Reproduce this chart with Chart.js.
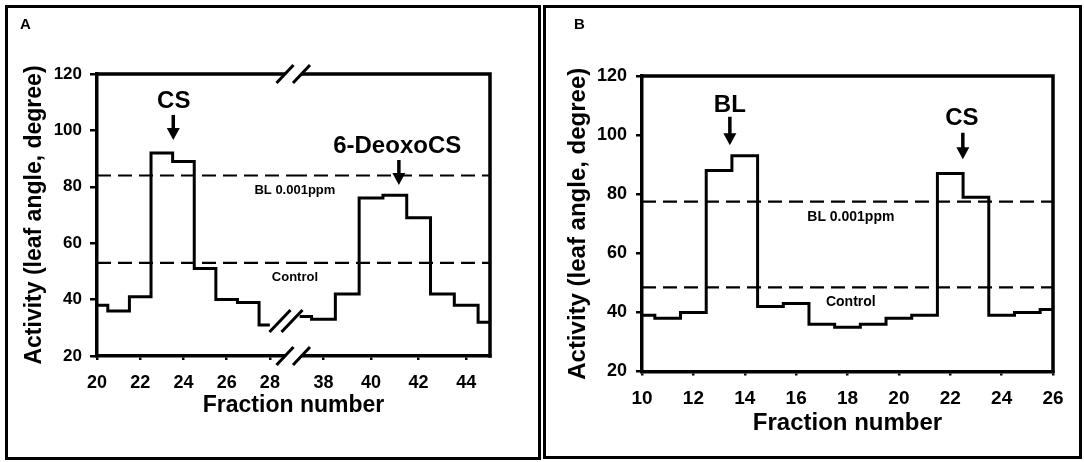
<!DOCTYPE html>
<html>
<head>
<meta charset="utf-8">
<title>Leaf angle activity by fraction</title>
<script src="https://cdn.jsdelivr.net/npm/chart.js@4.4.1/dist/chart.umd.min.js"></script>
<style>
  html, body { margin: 0; padding: 0; background: #fff; }
  body { width: 1084px; height: 462px; position: relative; overflow: hidden; }
  .panel-frame { position: absolute; box-sizing: border-box; border: 3px solid #000; }
  #frame_a { left: 5px; top: 5px; width: 536px; height: 455px; }
  #frame_b { left: 543px; top: 5px; width: 539px; height: 454px; }
  canvas { position: absolute; top: 0; }
  #chart_a { left: 0; }
  #chart_b { left: 542px; }
</style>
</head>
<body>
<div class="panel-frame" id="frame_a"></div>
<div class="panel-frame" id="frame_b"></div>
<canvas id="chart_a" width="542" height="462"></canvas>
<canvas id="chart_b" width="542" height="462"></canvas>

<script>
const FONT = '"Liberation Sans", Arial, Helvetica, sans-serif';

// Panel A - x axis is broken between fraction 28 and 38
const fractionsA1 = [20, 21, 22, 23, 24, 25, 26, 27, 28];
const activityA1 = [38, 36, 41, 92, 89, 51, 40, 39, 31];
const fractionsA2 = [37, 38, 39, 40, 41, 42, 43, 44, 45];
const activityA2 = [34, 33, 42, 76, 77, 69, 42, 38, 32];
const blLevelA = 84;
const controlLevelA = 53;

// Panel B
const fractionsB = [10, 11, 12, 13, 14, 15, 16, 17, 18, 19, 20, 21, 22, 23, 24, 25, 26];
const activityB = [39, 38, 40, 88, 93, 42, 43, 36, 35, 36, 38, 39, 87, 79, 39, 40, 41];
const blLevelB = 77.5;
const controlLevelB = 48.5;

// tick labels / axis ranges
const yTicks = [20, 40, 60, 80, 100, 120];
const yRange = [20, 120];
const xTicksA1 = [20, 22, 24, 26, 28];
const xTicksA2 = [38, 40, 42, 44];
const xRangeA1 = [20, 29.07];
const xRangeA2 = [36.72, 45];
const xTicksB = [10, 12, 14, 16, 18, 20, 22, 24, 26];
const xRangeB = [10, 26];

// annotation texts and arrows (placed in data units)
const labelsA = [
  { text: "CS", axis: "x", x: 23.55, y: 110.2, size: 24 },
  { text: "6-DeoxoCS", axis: "x2", x: 41.1, y: 94.2, size: 24 },
  { text: "BL 0.001ppm", axis: "x2", x: 36.8, y: 78.6, size: 13 },
  { text: "Control", axis: "x2", x: 36.8, y: 47.9, size: 13 },
];
const arrowsA = [
  { axis: "x", x: 23.53, from: 105.5, to: 96.6 },
  { axis: "x2", x: 41.17, from: 89.5, to: 80.6 },
];
const labelsB = [
  { text: "BL", axis: "x", x: 13.42, y: 109.9, size: 24 },
  { text: "CS", axis: "x", x: 22.45, y: 105.7, size: 24 },
  { text: "BL 0.001ppm", axis: "x", x: 18.13, y: 72.2, size: 14 },
  { text: "Control", axis: "x", x: 18.13, y: 43.4, size: 14 },
];
const arrowsB = [
  { axis: "x", x: 13.42, from: 106.2, to: 96.6 },
  { axis: "x", x: 22.49, from: 100.8, to: 91.8 },
];

function points(xs, ys) {
  return xs.map(function (x, i) { return { x: x, y: ys[i] }; });
}

function flatLine(range, level) {
  return [{ x: range[0], y: level }, { x: range[1], y: level }];
}

function drawBreak(ctx, x1, x2, y, dx, dy) {
  ctx.fillStyle = "#fff";
  ctx.beginPath();
  ctx.moveTo(x1 - dx, y + dy);
  ctx.lineTo(x1 + dx, y - dy);
  ctx.lineTo(x2 + dx, y - dy);
  ctx.lineTo(x2 - dx, y + dy);
  ctx.closePath();
  ctx.fill();
  ctx.beginPath();
  ctx.moveTo(x1 - dx, y + dy);
  ctx.lineTo(x1 + dx, y - dy);
  ctx.moveTo(x2 - dx, y + dy);
  ctx.lineTo(x2 + dx, y - dy);
  ctx.stroke();
}

// Frame, panel letter, text labels, arrows and axis breaks
const panelDecor = {
  id: "panelDecor",
  afterDraw: function (chart, args, opts) {
    const ctx = chart.ctx;
    const area = chart.chartArea;
    const yS = chart.scales.y;
    ctx.save();

    ctx.strokeStyle = "#000";
    ctx.lineWidth = 3.5;
    ctx.lineCap = "square";
    ctx.beginPath();
    ctx.moveTo(area.left, area.top);
    ctx.lineTo(area.right, area.top);
    ctx.lineTo(area.right, area.bottom);
    ctx.stroke();
    ctx.lineCap = "butt";

    if (opts.breakAxis) {
      const bx = chart.scales[opts.breakAxis].right;
      ctx.lineWidth = 3;
      drawBreak(ctx, bx - 8, bx + 8.5, area.top, 8.5, 9);
      drawBreak(ctx, bx - 8, bx + 8.5, area.bottom, 8.5, 9);
      drawBreak(ctx, bx - 13, bx - 1, yS.getPixelForValue(opts.breakLevel), 10.5, 11);
    }

    ctx.fillStyle = "#000";
    ctx.font = "bold 15px " + FONT;
    ctx.textAlign = "left";
    ctx.textBaseline = "alphabetic";
    ctx.fillText(opts.letter, opts.letterX, 29);

    ctx.textAlign = "center";
    ctx.textBaseline = "middle";
    (opts.labels || []).forEach(function (lb) {
      ctx.font = "bold " + lb.size + "px " + FONT;
      ctx.fillText(lb.text, chart.scales[lb.axis].getPixelForValue(lb.x), yS.getPixelForValue(lb.y));
    });

    (opts.arrows || []).forEach(function (ar) {
      const px = chart.scales[ar.axis].getPixelForValue(ar.x);
      const y0 = yS.getPixelForValue(ar.from);
      const tip = yS.getPixelForValue(ar.to);
      ctx.lineWidth = 3.5;
      ctx.beginPath();
      ctx.moveTo(px, y0);
      ctx.lineTo(px, tip - 10);
      ctx.stroke();
      ctx.beginPath();
      ctx.moveTo(px - 6.5, tip - 12);
      ctx.lineTo(px + 6.5, tip - 12);
      ctx.lineTo(px, tip);
      ctx.closePath();
      ctx.fill();
    });

    ctx.restore();
  },
};

function yAxis(cfg) {
  return {
    type: "linear",
    position: "left",
    min: yRange[0],
    max: yRange[1],
    afterBuildTicks: function (scale) {
      scale.ticks = yTicks.map(function (v) { return { value: v }; });
    },
    afterFit: function (scale) { scale.width = cfg.width; },
    ticks: { color: "#000", padding: cfg.tickPad, font: { family: FONT, size: cfg.tickSize, weight: "bold" } },
    grid: { drawOnChartArea: false, drawTicks: true, tickLength: cfg.tickLen, color: "#000", lineWidth: 2.5 },
    border: { display: true, color: "#000", width: 3.5 },
    title: {
      display: true,
      text: "Activity (leaf angle, degree)",
      color: "#000",
      padding: { top: cfg.titlePad, bottom: 0 },
      font: { family: FONT, size: cfg.titleSize, weight: "bold" },
    },
  };
}

function xAxis(range, tickValues, cfg) {
  return {
    type: "linear",
    position: "bottom",
    stack: "fraction",
    stackWeight: cfg.weight || 1,
    min: range[0],
    max: range[1],
    afterBuildTicks: function (scale) {
      scale.ticks = tickValues.map(function (v) { return { value: v }; });
    },
    afterFit: function (scale) { scale.height = cfg.height; },
    ticks: { color: "#000", padding: cfg.tickPad, maxRotation: 0, font: { family: FONT, size: cfg.tickSize, weight: "bold" } },
    grid: { drawOnChartArea: false, drawTicks: true, tickLength: 4, color: "#000", lineWidth: 2.5 },
    border: { display: true, color: "#000", width: 3.5 },
  };
}

function stepSet(data, axis) {
  return {
    data: data,
    xAxisID: axis,
    stepped: "middle",
    borderColor: "#000",
    borderWidth: 3,
    pointRadius: 0,
    fill: false,
  };
}

function dashSet(data, axis) {
  return {
    data: data,
    xAxisID: axis,
    borderColor: "#000",
    borderWidth: 2.2,
    borderDash: [14, 7],
    pointRadius: 0,
    fill: false,
  };
}

function baseOptions(pad, titleCfg, decor) {
  return {
    responsive: false,
    animation: false,
    layout: { padding: pad },
    plugins: {
      legend: { display: false },
      tooltip: { enabled: false },
      title: {
        display: true,
        text: "Fraction number",
        position: "bottom",
        fullSize: false,
        color: "#000",
        padding: { top: 0, bottom: titleCfg.pad },
        font: { family: FONT, size: titleCfg.size, weight: "bold" },
      },
      panelDecor: decor,
    },
  };
}

const ChartPage = {
  init: function () {
    this.drawPanelA();
    this.drawPanelB();
  },

  drawPanelA: function () {
    const options = baseOptions(
      { left: 0, top: 74, right: 52, bottom: 0 },
      { size: 23, pad: 43 },
      { letter: "A", letterX: 20, labels: labelsA, arrows: arrowsA, breakAxis: "x", breakLevel: 32.4 }
    );
    const xCfg = { height: 35.4, tickPad: 12.7, tickSize: 18 };
    options.scales = {
      x: xAxis(xRangeA1, xTicksA1, Object.assign({ weight: 196 }, xCfg)),
      x2: xAxis(xRangeA2, xTicksA2, Object.assign({ weight: 197 }, xCfg)),
      y: yAxis({ width: 97, tickPad: 8, tickLen: 7, tickSize: 17, titleSize: 23, titlePad: 21.2 }),
    };
    new Chart(document.getElementById("chart_a"), {
      type: "line",
      data: {
        datasets: [
          dashSet(flatLine(xRangeA1, blLevelA), "x"),
          dashSet(flatLine(xRangeA2, blLevelA), "x2"),
          dashSet(flatLine(xRangeA1, controlLevelA), "x"),
          dashSet(flatLine(xRangeA2, controlLevelA), "x2"),
          stepSet(points(fractionsA1, activityA1), "x"),
          stepSet(points(fractionsA2, activityA2), "x2"),
        ],
      },
      options: options,
      plugins: [panelDecor],
    });
  },

  drawPanelB: function () {
    const options = baseOptions(
      { left: 0, top: 76, right: 31, bottom: 0 },
      { size: 24, pad: 24.6 },
      { letter: "B", letterX: 32, labels: labelsB, arrows: arrowsB }
    );
    options.scales = {
      x: xAxis(xRangeB, xTicksB, { height: 37.1, tickPad: 12, tickSize: 19 }),
      y: yAxis({ width: 100, tickPad: 9, tickLen: 6, tickSize: 18, titleSize: 24, titlePad: 21.6 }),
    };
    new Chart(document.getElementById("chart_b"), {
      type: "line",
      data: {
        datasets: [
          dashSet(flatLine(xRangeB, blLevelB), "x"),
          dashSet(flatLine(xRangeB, controlLevelB), "x"),
          stepSet(points(fractionsB, activityB), "x"),
        ],
      },
      options: options,
      plugins: [panelDecor],
    });
  },
};

ChartPage.init();
</script>
</body>
</html>
